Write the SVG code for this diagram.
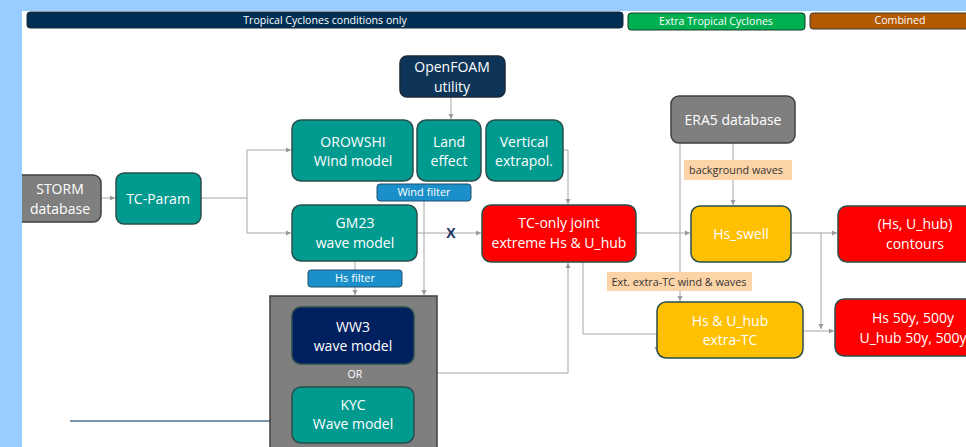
<svg xmlns="http://www.w3.org/2000/svg" width="966" height="447" viewBox="0 0 966 447">
<defs>
<marker id="ah" markerWidth="6" markerHeight="6" refX="5" refY="3" orient="auto" markerUnits="userSpaceOnUse">
<path d="M0,0.5 L5,3 L0,5.5 Z" fill="#999"/>
</marker>
<style>
.box{stroke:#2a4f4c;stroke-width:1.5}
.teal{fill:#009a8f}
.gray{fill:#7f7f7f;stroke:#404040;stroke-width:1.5}
.red{fill:#ff0000}
.amber{fill:#ffc000}
.t{font-family:"Open Sans","Noto Sans",sans-serif;font-size:14px;fill:#fff;text-anchor:middle}
.s{font-family:"Open Sans","Noto Sans",sans-serif;font-size:10.6px;fill:#fff;text-anchor:middle}
.f{font-family:"Open Sans","Noto Sans",sans-serif;font-size:11px;fill:#fff;text-anchor:middle}
.d{font-family:"Open Sans","Noto Sans",sans-serif;font-size:10.8px;fill:#333;text-anchor:middle}
.c{fill:none;stroke:#a6a6a6;stroke-width:1}
.filt{fill:#1a8fc9;stroke:#1f4e6b;stroke-width:1}
.peach{fill:#fdd3a8}
</style>
</defs>
<rect x="0" y="0" width="966" height="447" fill="#fff"/>

<g id="legend">
<rect x="27" y="12" width="596" height="16" rx="3" fill="#002f55" stroke="#1a2a3a" stroke-width="1"/>
<text class="s" x="325" y="24">Tropical Cyclones conditions only</text>
<rect x="628" y="13" width="177" height="17" rx="3" fill="#00b050" stroke="#1a3a2a" stroke-width="1"/>
<text class="s" x="716" y="25">Extra Tropical Cyclones</text>
<rect x="810" y="13" width="170" height="16" rx="3" fill="#b35900" stroke="#3a3a3a" stroke-width="1"/>
<text class="s" x="900" y="24">Combined</text>
</g>

<g id="connectors">
<path class="c" d="M101,198 H115" marker-end="url(#ah)"/>
<path class="c" d="M201,198 H247 V150 H291" marker-end="url(#ah)"/>
<path class="c" d="M247,198 V233 H291" marker-end="url(#ah)"/>
<path class="c" d="M451,97 V119" marker-end="url(#ah)"/>
<path class="c" d="M563,150 H568 V204" marker-end="url(#ah)"/>
<path class="c" d="M424,201 V295" marker-end="url(#ah)"/>
<path class="c" d="M355,261 V295" marker-end="url(#ah)"/>
<path class="c" d="M417,233 H481" marker-end="url(#ah)"/>
<path class="c" d="M437,373 H568 V263" marker-end="url(#ah)"/>
<path class="c" d="M636,233 H690" marker-end="url(#ah)"/>
<path class="c" d="M583,262 V334 H657 V352" marker-end="url(#ah)"/>
<path class="c" d="M680,143 V301" marker-end="url(#ah)"/>
<path class="c" d="M733,143 V205" marker-end="url(#ah)"/>
<path class="c" d="M791,233 H837" marker-end="url(#ah)"/>
<path class="c" d="M821,233 V329" marker-end="url(#ah)"/>
<path class="c" d="M803,331 H834" marker-end="url(#ah)"/>
<path d="M70,421 H270" fill="none" stroke="#4f6f8f" stroke-width="1.5"/>
<text x="451" y="238" font-family="'Open Sans','Noto Sans',sans-serif" font-size="14" font-weight="bold" fill="#1f3864" text-anchor="middle">X</text>
</g>

<g id="storm">
<rect class="gray" x="14" y="175" width="87" height="47" rx="8"/>
<text class="t" x="60" y="194">STORM</text>
<text class="t" x="60" y="214">database</text>
</g>
<g id="tcparam">
<rect class="box teal" x="116" y="173" width="85" height="51" rx="8"/>
<text class="t" x="158" y="204">TC-Param</text>
</g>
<g id="openfoam">
<rect x="400" y="56" width="105" height="41" rx="7" fill="#0e3557" stroke="#1a2a3a" stroke-width="1.5"/>
<text class="t" x="452" y="72">OpenFOAM</text>
<text class="t" x="452" y="92">utility</text>
</g>
<g id="orowshi">
<rect class="box teal" x="292" y="120" width="121" height="61" rx="9"/>
<text class="t" x="353" y="147">OROWSHI</text>
<text class="t" x="353" y="166">Wind model</text>
</g>
<g id="land">
<rect class="box teal" x="417" y="120" width="64" height="61" rx="9"/>
<text class="t" x="449" y="147">Land</text>
<text class="t" x="449" y="166">effect</text>
</g>
<g id="vertical">
<rect class="box teal" x="486" y="120" width="77" height="61" rx="9"/>
<text class="t" x="524" y="147">Vertical</text>
<text class="t" x="524" y="166">extrapol.</text>
</g>
<g id="windfilter">
<rect class="filt" x="377" y="184" width="94" height="17" rx="3"/>
<text class="f" x="424" y="196">Wind filter</text>
</g>
<g id="gm23">
<rect class="box teal" x="292" y="205" width="125" height="56" rx="9"/>
<text class="t" x="355" y="228">GM23</text>
<text class="t" x="355" y="248">wave model</text>
</g>
<g id="hsfilter">
<rect class="filt" x="308" y="270" width="94" height="17" rx="3"/>
<text class="f" x="355" y="282">Hs filter</text>
</g>
<g id="container">
<rect x="270" y="296" width="167" height="160" fill="#7f7f7f" stroke="#404040" stroke-width="1.5"/>
<text class="s" x="355" y="378">OR</text>
</g>
<g id="ww3">
<rect x="292" y="307" width="122" height="57" rx="9" fill="#00205f" stroke="#2a4f4c" stroke-width="1.5"/>
<text class="t" x="353" y="332">WW3</text>
<text class="t" x="353" y="351">wave model</text>
</g>
<g id="kyc">
<rect class="box teal" x="292" y="387" width="122" height="56" rx="9"/>
<text class="t" x="353" y="410">KYC</text>
<text class="t" x="353" y="429">Wave model</text>
</g>
<g id="tconly">
<rect class="box red" x="482" y="205" width="154" height="57" rx="9"/>
<text class="t" x="559" y="228">TC-only joint</text>
<text class="t" x="559" y="248">extreme Hs &amp; U_hub</text>
</g>
<g id="era5">
<rect class="gray" x="671" y="96" width="124" height="47" rx="8"/>
<text class="t" x="733" y="125">ERA5 database</text>
</g>
<g id="bgwaves">
<rect class="peach" x="684" y="160" width="108" height="20"/>
<text class="d" x="736" y="174">background waves</text>
</g>
<g id="hsswell">
<rect class="box amber" x="691" y="206" width="100" height="56" rx="9"/>
<text class="t" x="741" y="239">Hs_swell</text>
</g>
<g id="contours">
<rect class="box red" x="838" y="206" width="150" height="56" rx="9"/>
<text class="t" x="915" y="229">(Hs, U_hub)</text>
<text class="t" x="915" y="249">contours</text>
</g>
<g id="extlabel">
<rect class="peach" x="607" y="272" width="145" height="19"/>
<text class="d" x="679" y="286">Ext. extra-TC wind &amp; waves</text>
</g>
<g id="extratc">
<rect class="box amber" x="657" y="302" width="146" height="56" rx="9"/>
<text class="t" x="730" y="326">Hs &amp; U_hub</text>
<text class="t" x="730" y="345">extra-TC</text>
</g>
<g id="return">
<rect class="box red" x="835" y="299" width="150" height="57" rx="9"/>
<text class="t" x="913" y="323">Hs 50y, 500y</text>
<text class="t" x="913" y="343">U_hub 50y, 500y</text>
</g>

<rect x="0" y="0" width="966" height="11" fill="#99ccff"/>
<rect x="0" y="0" width="22" height="447" fill="#99ccff"/>
</svg>
